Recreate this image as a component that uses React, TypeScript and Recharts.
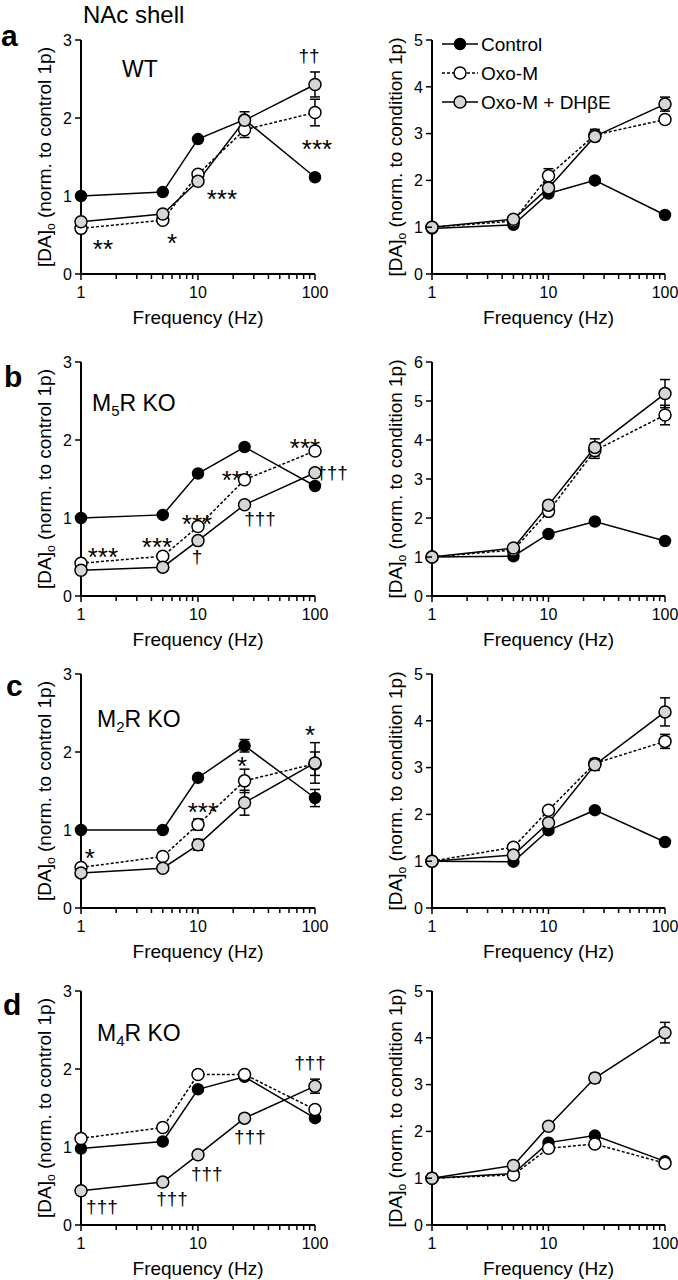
import React from 'react';
import { LineChart, Line, XAxis, YAxis, ErrorBar, ReferenceDot } from 'recharts';

const FONT = '"Liberation Sans", Arial, Helvetica, sans-serif';

// ---------- data ----------
const frequencies = [1, 5, 10, 25, 100];
const xTicks = [1, 2, 3, 4, 5, 6, 7, 8, 9, 10, 20, 30, 40, 50, 60, 70, 80, 90, 100];
const xMajorTicks = [1, 10, 100];
const yTicks3 = [0, 1, 2, 3];
const yTicks5 = [0, 1, 2, 3, 4, 5];
const yTicks6 = [0, 1, 2, 3, 4, 5, 6];

const seriesNames = ['Control', 'Oxo-M', 'Oxo-M + DH\u03b2E'];

// a: WT
const wtCtrlN = [1.0, 1.05, 1.73, 1.98, 1.24];
const wtCtrlNErr = [0, 0.02, 0.03, 0.1, 0.03];
const wtOxoN = [0.585, 0.69, 1.28, 1.85, 2.07];
const wtOxoNErr = [0.02, 0.02, 0.04, 0.1, 0.17];
const wtDhbeN = [0.67, 0.77, 1.19, 1.97, 2.43];
const wtDhbeNErr = [0.02, 0.02, 0.04, 0.05, 0.16];

const wtCtrlC = [0.97, 1.05, 1.72, 2.0, 1.26];
const wtCtrlCErr = [0, 0.02, 0.05, 0.05, 0.05];
const wtOxoC = [1.0, 1.13, 2.1, 2.97, 3.3];
const wtOxoCErr = [0, 0.03, 0.15, 0.12, 0.08];
const wtDhbeC = [1.0, 1.17, 1.84, 2.94, 3.63];
const wtDhbeCErr = [0, 0.03, 0.1, 0.1, 0.15];

// b: M5R KO
const m5CtrlN = [1.0, 1.04, 1.57, 1.91, 1.41];
const m5CtrlNErr = [0, 0.02, 0.03, 0.03, 0.03];
const m5OxoN = [0.42, 0.51, 0.89, 1.49, 1.86];
const m5OxoNErr = [0.02, 0.02, 0.03, 0.03, 0.03];
const m5DhbeN = [0.33, 0.37, 0.71, 1.17, 1.58];
const m5DhbeNErr = [0.02, 0.02, 0.03, 0.03, 0.03];

const m5CtrlC = [1.0, 1.02, 1.59, 1.91, 1.41];
const m5CtrlCErr = [0, 0.03, 0.05, 0.05, 0.05];
const m5OxoC = [1.0, 1.18, 2.17, 3.73, 4.64];
const m5OxoCErr = [0, 0.05, 0.08, 0.2, 0.25];
const m5DhbeC = [1.0, 1.23, 2.33, 3.81, 5.19];
const m5DhbeCErr = [0, 0.05, 0.08, 0.22, 0.36];

// c: M2R KO
const m2CtrlN = [1.0, 1.0, 1.67, 2.08, 1.41];
const m2CtrlNErr = [0, 0.02, 0.03, 0.08, 0.11];
const m2OxoN = [0.52, 0.66, 1.07, 1.63, 1.85];
const m2OxoNErr = [0.03, 0.03, 0.07, 0.15, 0.15];
const m2DhbeN = [0.45, 0.51, 0.81, 1.35, 1.86];
const m2DhbeNErr = [0.02, 0.03, 0.07, 0.16, 0.26];

const m2CtrlC = [1.0, 0.99, 1.66, 2.09, 1.41];
const m2CtrlCErr = [0, 0.03, 0.05, 0.05, 0.05];
const m2OxoC = [1.0, 1.3, 2.09, 3.09, 3.56];
const m2OxoCErr = [0, 0.03, 0.05, 0.1, 0.15];
const m2DhbeC = [1.0, 1.13, 1.82, 3.06, 4.19];
const m2DhbeCErr = [0, 0.03, 0.05, 0.12, 0.3];

// d: M4R KO
const m4CtrlN = [0.98, 1.07, 1.74, 1.9, 1.37];
const m4CtrlNErr = [0, 0.02, 0.03, 0.03, 0.03];
const m4OxoN = [1.11, 1.25, 1.93, 1.93, 1.48];
const m4OxoNErr = [0, 0.02, 0.03, 0.03, 0.03];
const m4DhbeN = [0.44, 0.55, 0.9, 1.37, 1.78];
const m4DhbeNErr = [0, 0.02, 0.03, 0.03, 0.09];

const m4CtrlC = [1.0, 1.1, 1.76, 1.91, 1.36];
const m4CtrlCErr = [0, 0.03, 0.05, 0.05, 0.05];
const m4OxoC = [1.0, 1.07, 1.64, 1.73, 1.32];
const m4OxoCErr = [0, 0.03, 0.05, 0.05, 0.05];
const m4DhbeC = [1.0, 1.27, 2.11, 3.14, 4.11];
const m4DhbeCErr = [0, 0.03, 0.05, 0.1, 0.22];

// significance marks (frequency, value, text)
const wtNotes = [
  { f: 1.54, v: 0.4, text: '**' },
  { f: 6.0, v: 0.47, text: '*' },
  { f: 16.0, v: 1.04, text: '***' },
  { f: 104, v: 1.68, text: '***' },
  { f: 88.9, v: 2.78, text: '\u2020\u2020' },
];
const m5Notes = [
  { f: 1.54, v: 0.58, text: '***' },
  { f: 4.46, v: 0.7, text: '***' },
  { f: 9.8, v: 1.0, text: '***' },
  { f: 9.8, v: 0.49, text: '\u2020' },
  { f: 21.5, v: 1.56, text: '***' },
  { f: 33.9, v: 0.98, text: '\u2020\u2020\u2020' },
  { f: 82.2, v: 1.98, text: '***' },
  { f: 139.8, v: 1.57, text: '\u2020\u2020\u2020' },
];
const m2Notes = [
  { f: 1.19, v: 0.72, text: '*' },
  { f: 11.0, v: 1.31, text: '***' },
  { f: 23.8, v: 1.9, text: '*' },
  { f: 90.6, v: 2.29, text: '*' },
];
const m4Notes = [
  { f: 1.51, v: 0.22, text: '\u2020\u2020\u2020' },
  { f: 6.0, v: 0.32, text: '\u2020\u2020\u2020' },
  { f: 11.9, v: 0.64, text: '\u2020\u2020\u2020' },
  { f: 27.8, v: 1.12, text: '\u2020\u2020\u2020' },
  { f: 90.6, v: 2.06, text: '\u2020\u2020\u2020' },
];

const buildRows = (c: number[], cE: number[], o: number[], oE: number[], d: number[], dE: number[]) =>
  frequencies.map((f, i) => ({ f, c: c[i], cE: cE[i], o: o[i], oE: oE[i], d: d[i], dE: dE[i] }));

type Note = { f: number; v: number; text: string };
type PanelDef = {
  id: string;
  side: 'left' | 'right';
  top: number;
  yMax: number;
  yTicks: number[];
  rows: any[];
  notes: Note[];
};

const panels: PanelDef[] = [
  { id: 'aL', side: 'left', top: 40, yMax: 3, yTicks: yTicks3, rows: buildRows(wtCtrlN, wtCtrlNErr, wtOxoN, wtOxoNErr, wtDhbeN, wtDhbeNErr), notes: wtNotes },
  { id: 'aR', side: 'right', top: 40, yMax: 5, yTicks: yTicks5, rows: buildRows(wtCtrlC, wtCtrlCErr, wtOxoC, wtOxoCErr, wtDhbeC, wtDhbeCErr), notes: [] },
  { id: 'bL', side: 'left', top: 362, yMax: 3, yTicks: yTicks3, rows: buildRows(m5CtrlN, m5CtrlNErr, m5OxoN, m5OxoNErr, m5DhbeN, m5DhbeNErr), notes: m5Notes },
  { id: 'bR', side: 'right', top: 362, yMax: 6, yTicks: yTicks6, rows: buildRows(m5CtrlC, m5CtrlCErr, m5OxoC, m5OxoCErr, m5DhbeC, m5DhbeCErr), notes: [] },
  { id: 'cL', side: 'left', top: 674, yMax: 3, yTicks: yTicks3, rows: buildRows(m2CtrlN, m2CtrlNErr, m2OxoN, m2OxoNErr, m2DhbeN, m2DhbeNErr), notes: m2Notes },
  { id: 'cR', side: 'right', top: 674, yMax: 5, yTicks: yTicks5, rows: buildRows(m2CtrlC, m2CtrlCErr, m2OxoC, m2OxoCErr, m2DhbeC, m2DhbeCErr), notes: [] },
  { id: 'dL', side: 'left', top: 991, yMax: 3, yTicks: yTicks3, rows: buildRows(m4CtrlN, m4CtrlNErr, m4OxoN, m4OxoNErr, m4DhbeN, m4DhbeNErr), notes: m4Notes },
  { id: 'dR', side: 'right', top: 991, yMax: 5, yTicks: yTicks5, rows: buildRows(m4CtrlC, m4CtrlCErr, m4OxoC, m4OxoCErr, m4DhbeC, m4DhbeCErr), notes: [] },
];

// ---------- styles ----------
const seriesStyle = [
  { key: 'c', err: 'cE', fill: '#000000', dash: undefined as string | undefined, r: 5.5 },
  { key: 'o', err: 'oE', fill: '#ffffff', dash: '3 2', r: 6 },
  { key: 'd', err: 'dE', fill: '#d6d6d6', dash: undefined as string | undefined, r: 6 },
];

const XTick = (props: any) => {
  const { x, y, payload } = props;
  const v = payload.value;
  const major = xMajorTicks.includes(v);
  return (
    <g>
      <line x1={x} x2={x} y1={y} y2={y + (major ? 6 : 5)} stroke="#000" strokeWidth={1.5} />
      {major && (
        <text x={x} y={y + 24} textAnchor="middle" fontSize={16} fontFamily={FONT} fill="#000">
          {v}
        </text>
      )}
    </g>
  );
};

const YTick = (props: any) => {
  const { x, y, payload } = props;
  return (
    <g>
      <line x1={x} x2={x - 6} y1={y} y2={y} stroke="#000" strokeWidth={1.5} />
      <text x={x - 9} y={y} dy="0.36em" textAnchor="end" fontSize={16} fontFamily={FONT} fill="#000">
        {payload.value}
      </text>
    </g>
  );
};

const XLabel = (props: any) => {
  const vb = props.viewBox || {};
  return (
    <text x={vb.x + vb.width / 2} y={vb.y + 50} textAnchor="middle" fontSize={19} fontFamily={FONT} fill="#000">
      Frequency (Hz)
    </text>
  );
};

const YLabel = (props: any) => {
  const vb = props.viewBox || {};
  const cx = vb.x + vb.width - 37;
  const cy = vb.y + vb.height / 2;
  return (
    <text
      x={cx}
      y={cy}
      transform={`rotate(-90 ${cx} ${cy})`}
      textAnchor="middle"
      dy="0.36em"
      fontSize={19}
      fontFamily={FONT}
      fill="#000"
    >
      [DA]<tspan fontSize={12} dy={4}>o</tspan>
      <tspan dy={-4}>{` (norm. to ${props.which} 1p)`}</tspan>
    </text>
  );
};

const NoteMark = (props: any) => {
  const { cx, cy, text } = props;
  const isStar = text.includes('*');
  return (
    <text
      x={cx}
      y={cy}
      dy={isStar ? 15 : 5}
      textAnchor="middle"
      fontSize={isStar ? 26 : 19}
      fontFamily={FONT}
      fill="#000"
    >
      {text}
    </text>
  );
};

const makeDot = (fill: string, r: number) => (p: any) => {
  if (p.cx == null || p.cy == null) return <g key={`e${p.index}`} />;
  return <circle key={`d${p.index}`} cx={p.cx} cy={p.cy} r={r} fill={fill} stroke="#000" strokeWidth={1.5} />;
};

function Panel({ def }: { def: PanelDef }) {
  const isLeft = def.side === 'left';
  const width = isLeft ? 362 : 339;
  const margin = isLeft
    ? { top: 20, right: 47, bottom: 0, left: 41 }
    : { top: 20, right: 13, bottom: 0, left: 53 };
  return (
    <div style={{ position: 'absolute', left: isLeft ? 0 : 339, top: def.top - 20 }}>
      <LineChart width={width} height={314} data={def.rows} margin={margin}>
        <XAxis
          dataKey="f"
          type="number"
          scale="log"
          domain={[1, 100]}
          ticks={xTicks}
          interval={0}
          tick={<XTick />}
          tickLine={false}
          tickSize={0}
          tickMargin={0}
          axisLine={{ stroke: '#000', strokeWidth: 2 }}
          height={60}
          label={<XLabel />}
        />
        <YAxis
          type="number"
          domain={[0, def.yMax]}
          ticks={def.yTicks}
          interval={0}
          tick={<YTick />}
          tickLine={false}
          tickSize={0}
          tickMargin={0}
          axisLine={{ stroke: '#000', strokeWidth: 2 }}
          width={40}
          label={<YLabel which={isLeft ? 'control' : 'condition'} />}
        />
        {def.notes.map((n, i) => (
          <ReferenceDot
            key={`n${i}`}
            x={n.f}
            y={n.v}
            r={0}
            ifOverflow="visible"
            shape={(sp: any) => <NoteMark {...sp} text={n.text} />}
          />
        ))}
        {seriesStyle.map((s, i) => (
          <Line
            key={s.key}
            name={seriesNames[i]}
            dataKey={s.key}
            stroke="#000"
            strokeWidth={1.5}
            strokeDasharray={s.dash}
            dot={makeDot(s.fill, s.r)}
            activeDot={false}
            isAnimationActive={false}
          >
            <ErrorBar dataKey={s.err} width={5} stroke="#000" strokeWidth={1.5} />
          </Line>
        ))}
      </LineChart>
    </div>
  );
}

function Overlay() {
  const legendRows = [44, 73, 102];
  return (
    <svg width={678} height={1280} style={{ position: 'absolute', left: 0, top: 0, pointerEvents: 'none' }}>
      <text x={83} y={23} fontSize={24} fontFamily={FONT} fill="#000">NAc shell</text>
      <text x={1} y={46} fontSize={30} fontWeight="bold" fontFamily={FONT} fill="#000">a</text>
      <text x={4} y={387} fontSize={30} fontWeight="bold" fontFamily={FONT} fill="#000">b</text>
      <text x={6} y={696} fontSize={30} fontWeight="bold" fontFamily={FONT} fill="#000">c</text>
      <text x={3} y={1015} fontSize={30} fontWeight="bold" fontFamily={FONT} fill="#000">d</text>
      <text x={122} y={77} fontSize={23} fontFamily={FONT} fill="#000">WT</text>
      <text x={92} y={411} fontSize={23} fontFamily={FONT} fill="#000">
        M<tspan fontSize={15} dy={5}>5</tspan><tspan dy={-5}>R KO</tspan>
      </text>
      <text x={97} y={727} fontSize={23} fontFamily={FONT} fill="#000">
        M<tspan fontSize={15} dy={5}>2</tspan><tspan dy={-5}>R KO</tspan>
      </text>
      <text x={97} y={1041} fontSize={23} fontFamily={FONT} fill="#000">
        M<tspan fontSize={15} dy={5}>4</tspan><tspan dy={-5}>R KO</tspan>
      </text>
      {seriesStyle.map((s, i) => (
        <g key={s.key}>
          <line x1={442} x2={478} y1={legendRows[i]} y2={legendRows[i]} stroke="#000" strokeWidth={1.5} strokeDasharray={s.dash} />
          <circle cx={460} cy={legendRows[i]} r={s.r} fill={s.fill} stroke="#000" strokeWidth={1.5} />
          <text x={481} y={legendRows[i]} dy="0.36em" fontSize={19} fontFamily={FONT} fill="#000">
            {seriesNames[i]}
          </text>
        </g>
      ))}
    </svg>
  );
}

export default function App() {
  return (
    <div style={{ position: 'absolute', left: 0, top: 0, width: 678, height: 1280, overflow: 'hidden', background: '#fff' }}>
      {panels.map((p) => (
        <Panel key={p.id} def={p} />
      ))}
      <Overlay />
    </div>
  );
}
